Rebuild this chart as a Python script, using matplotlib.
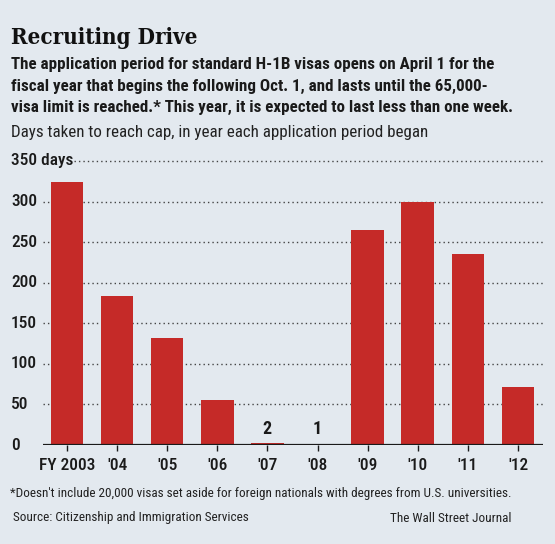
import matplotlib
matplotlib.use("Agg")
import matplotlib.pyplot as plt
import matplotlib.transforms as mtransforms

# data
years = ["FY 2003", "'04", "'05", "'06", "'07", "'08", "'09", "'10", "'11", "'12"]
days = [324, 184, 132, 56, 2, 1, 265, 300, 235, 72]
yticks = [0, 50, 100, 150, 200, 250, 300, 350]
ytick_labels = ["0", "50", "100", "150", "200", "250", "300", "350 days"]
labelled = {"'07": "2", "'08": "1"}

bg = "#e3e9ef"
red = "#c52a28"
ink = "#1a1a1a"
W, H = 555, 544

sans = ["Roboto Condensed", "DejaVu Sans"]
serif = "DejaVu Serif"

fig = plt.figure(figsize=(W / 100, H / 100), dpi=100, facecolor=bg)
renderer = fig.canvas.get_renderer()

def py(y):
    # pixel from top -> figure fraction
    return 1 - y / H

def fit(t, width):
    # shrink/grow a text so it spans about `width` pixels
    w = t.get_window_extent(renderer).width
    t.set_fontsize(t.get_fontsize() * width / w)
    return t

ax = fig.add_axes([42.7 / W, py(445), (543 - 42.7) / W, (445 - 161) / H])
ax.set_facecolor(bg)

x = range(len(years))
for v in yticks[1:]:
    # the top line starts after its "350 days" label
    start = 0.062 if v == yticks[-1] else 0
    ax.axhline(v, xmin=start, color="#444444", lw=1.0, ls=(0, (1, 2.2)),
               zorder=1, clip_on=False)
ax.bar(x, days, width=0.65, color=red, zorder=2)
ax.axhline(0, color=ink, lw=1.6, zorder=3)

for i, yr in enumerate(years):
    if yr in labelled:
        ax.text(i, 9, labelled[yr], ha="center", va="bottom", fontsize=13,
                fontweight="bold", family=sans, color=ink)

ax.set_xlim(-0.485, 9.5)
ax.set_ylim(0, 350)
for s in ax.spines.values():
    s.set_visible(False)
ax.set_xticks(list(x))
ax.set_xticklabels(years, family=sans, fontsize=12.5, fontweight="medium", color=ink)
ax.tick_params(axis="x", length=4, width=1, color=ink, pad=5, direction="out")
ax.set_yticks([])

trans = mtransforms.blended_transform_factory(fig.transFigure, ax.transData)
for v, lab in zip(yticks, ytick_labels):
    fig.text(11 / W, v, lab, transform=trans, ha="left", va="center",
             fontsize=12.5, fontweight="medium", family=sans, color=ink)

fit(fig.text(11 / W, py(44), "Recruiting Drive", ha="left", va="baseline",
             fontsize=18, fontweight="bold", family=serif, fontstretch="condensed",
             color="#111111"), 186)

sub = ["The application period for standard H-1B visas opens on April 1 for the",
       "fiscal year that begins the following Oct. 1, and lasts until the 65,000-",
       "visa limit is reached.* This year, it is expected to last less than one week."]
line3 = fig.text(11 / W, py(107), sub[2], ha="left", va="center", fontsize=13,
                 fontweight="bold", family=sans, color=ink)
fit(line3, 501)
for yy, s in zip([65, 86], sub[:2]):
    fig.text(11 / W, py(yy), s, ha="left", va="center", fontsize=line3.get_fontsize(),
             fontweight="bold", family=sans, color=ink)

fit(fig.text(11 / W, py(133), "Days taken to reach cap, in year each application period began",
             ha="left", va="center", fontsize=13, family=sans, color="#222222"), 417)

foot = fit(fig.text(10 / W, py(494),
                    "*Doesn't include 20,000 visas set aside for foreign nationals with degrees from U.S. universities.",
                    ha="left", va="center", fontsize=10, family=sans, color="#222222"), 497)
fig.text(13 / W, py(518), "Source: Citizenship and Immigration Services",
         ha="left", va="center", fontsize=foot.get_fontsize(), family=sans, color="#222222")
fig.text(511 / W, py(518), "The Wall Street Journal",
         ha="right", va="center", fontsize=foot.get_fontsize(), family=sans, color="#222222")

fig.savefig("out.png", dpi=100, facecolor=bg)
